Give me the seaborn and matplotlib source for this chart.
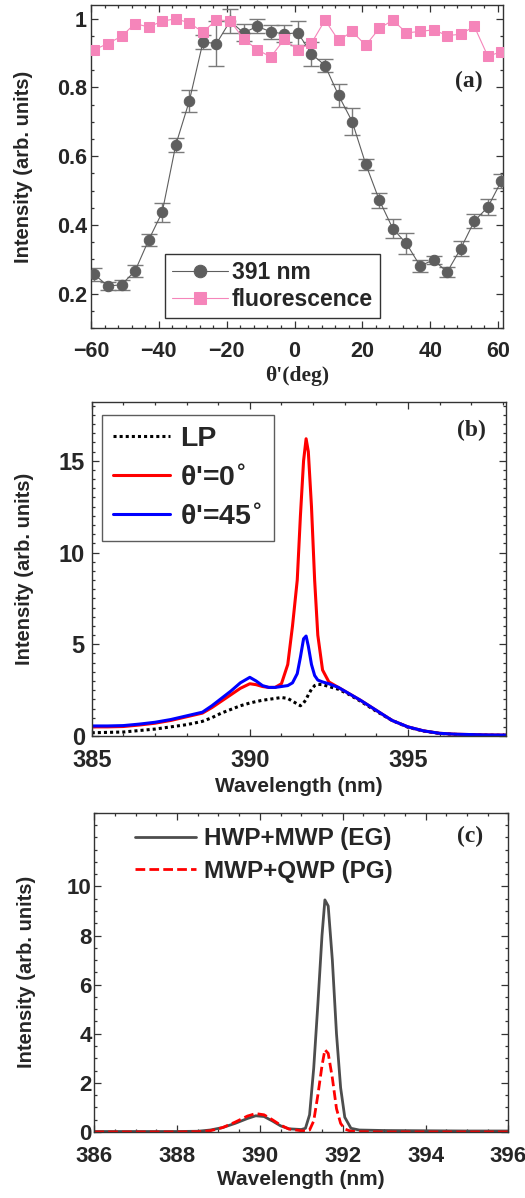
import numpy as np
import pandas as pd
import matplotlib
matplotlib.use("Agg")
import matplotlib.pyplot as plt
from matplotlib.ticker import MultipleLocator
import seaborn as sns

# --- panel (a): angle scan ---
theta = [-59, -55, -51, -47, -43, -39, -35, -31, -27, -23, -19, -15, -11, -7, -3, 1,
         5, 9, 13, 17, 21, 25, 29, 33, 37, 41, 45, 49, 53, 57, 61]
i391 = [0.256, 0.222, 0.226, 0.266, 0.356, 0.437, 0.633, 0.761, 0.932, 0.928, 0.993,
        0.959, 0.978, 0.962, 0.956, 0.959, 0.898, 0.864, 0.777, 0.701, 0.577, 0.472,
        0.389, 0.346, 0.281, 0.298, 0.263, 0.331, 0.411, 0.452, 0.528]
i391_err = [0.02, 0.012, 0.014, 0.017, 0.018, 0.028, 0.02, 0.031, 0.02, 0.065, 0.035,
            0.025, 0.02, 0.02, 0.025, 0.035, 0.035, 0.02, 0.033, 0.04, 0.016, 0.022,
            0.027, 0.03, 0.018, 0.012, 0.014, 0.022, 0.02, 0.023, 0.02]
fluo = [0.910, 0.928, 0.949, 0.986, 0.976, 0.993, 1.000, 0.988, 0.961, 0.997, 0.994,
        0.942, 0.910, 0.889, 0.940, 0.910, 0.929, 0.996, 0.937, 0.963, 0.923, 0.972,
        0.996, 0.959, 0.963, 0.968, 0.951, 0.955, 0.978, 0.891, 0.904]

# --- panel (b): spectra for LP and two EP angles ---
wl_b = [385.0, 385.5, 386.0, 386.5, 387.0, 387.5, 388.0, 388.5, 388.8, 389.1, 389.4,
        389.7, 390.0, 390.2, 390.4, 390.6, 390.8, 391.0, 391.2, 391.35, 391.5, 391.6,
        391.7, 391.78, 391.85, 391.95, 392.05, 392.15, 392.3, 392.5, 392.8, 393.1,
        393.5, 394.0, 394.5, 395.0, 395.5, 396.0, 396.5, 397.0, 397.5, 398.1]
lp = [0.18, 0.20, 0.22, 0.30, 0.38, 0.50, 0.62, 0.80, 1.00, 1.25, 1.45, 1.65, 1.80,
      1.88, 1.95, 2.00, 2.05, 2.10, 2.05, 1.90, 1.75, 1.65, 1.80, 2.00, 2.25, 2.55,
      2.75, 2.82, 2.80, 2.70, 2.55, 2.30, 1.90, 1.35, 0.85, 0.48, 0.27, 0.14, 0.09,
      0.07, 0.05, 0.04]
ep0 = [0.50, 0.50, 0.52, 0.60, 0.70, 0.85, 1.05, 1.25, 1.55, 1.90, 2.25, 2.60, 2.85,
       2.80, 2.70, 2.65, 2.65, 2.85, 3.90, 6.00, 8.50, 12.0, 15.0, 16.2, 15.5, 12.5,
       8.50, 5.50, 3.60, 2.95, 2.65, 2.35, 1.95, 1.40, 0.85, 0.50, 0.28, 0.15, 0.10,
       0.08, 0.06, 0.05]
ep45 = [0.55, 0.55, 0.57, 0.65, 0.75, 0.90, 1.10, 1.30, 1.65, 2.05, 2.45, 2.90, 3.20,
        3.00, 2.75, 2.65, 2.65, 2.70, 2.75, 2.90, 3.40, 4.30, 5.30, 5.45, 4.90, 3.90,
        3.30, 3.05, 2.95, 2.85, 2.65, 2.35, 1.95, 1.40, 0.85, 0.50, 0.28, 0.15, 0.10,
        0.08, 0.06, 0.05]

# --- panel (c): EG vs PG ---
wl_c = [386.0, 387.0, 388.0, 388.5, 388.8, 389.1, 389.4, 389.7, 389.9, 390.1, 390.3,
        390.5, 390.7, 391.0, 391.1, 391.2, 391.3, 391.4, 391.5, 391.57, 391.65, 391.75,
        391.85, 391.95, 392.05, 392.2, 392.4, 393.0, 394.0, 395.0, 396.0]
eg = [0.02, 0.02, 0.02, 0.03, 0.08, 0.18, 0.35, 0.55, 0.66, 0.63, 0.45, 0.25, 0.13,
      0.10, 0.15, 0.70, 2.60, 5.20, 8.00, 9.45, 9.20, 7.00, 4.00, 1.80, 0.60, 0.15,
      0.08, 0.06, 0.05, 0.04, 0.04]
pg = [0.0, 0.0, 0.0, 0.01, 0.05, 0.18, 0.40, 0.65, 0.75, 0.70, 0.50, 0.28, 0.12, 0.05,
      0.04, 0.08, 0.45, 1.50, 2.70, 3.35, 3.20, 2.20, 0.95, 0.35, 0.12, 0.03, 0.01,
      0.0, 0.0, 0.0, 0.0]

sns.set_style("ticks")
plt.rcParams['font.family'] = ['Liberation Sans', 'DejaVu Sans']
plt.rcParams['font.weight'] = 'bold'
plt.rcParams['axes.labelweight'] = 'bold'
plt.rcParams['mathtext.default'] = 'bf'

GRAY = '#5e5e5e'
PINK = '#f585ba'

fig = plt.figure(figsize=(5.25, 11.98), dpi=100)
ax_a = fig.add_axes([0.1733, 0.7262, 0.785, 0.2696])
ax_b = fig.add_axes([0.1747, 0.3856, 0.789, 0.2788])
ax_c = fig.add_axes([0.1796, 0.0551, 0.7886, 0.2665])


def style_axes(ax, tick_size):
    for s in ax.spines.values():
        s.set_linewidth(1.0)
        s.set_color('#333333')
    ax.tick_params(which='both', direction='in', top=True, right=True,
                   labelsize=tick_size, width=0.9, color='#333333')
    ax.tick_params(which='major', length=5)
    ax.tick_params(which='minor', length=2.5)
    for lab in ax.get_xticklabels() + ax.get_yticklabels():
        lab.set_fontweight('bold')


# ---------- (a) ----------
df_a = pd.DataFrame({'theta': theta, 'i391': i391, 'fluo': fluo})
ax_a.errorbar(theta, i391, yerr=i391_err, fmt='none', ecolor='#7a7a7a',
              elinewidth=1.0, capsize=6, capthick=1.0, zorder=2)
sns.lineplot(data=df_a, x='theta', y='i391', ax=ax_a, color=GRAY, lw=0.8,
             marker='o', markersize=7.5, markeredgecolor=GRAY, label='391 nm', zorder=3)
sns.lineplot(data=df_a, x='theta', y='fluo', ax=ax_a, color=PINK, lw=0.8,
             marker='s', markersize=7, markeredgecolor=PINK, label='fluorescence', zorder=4)
ax_a.set_xlim(-60, 61.5)
ax_a.set_ylim(0.1, 1.04)
ax_a.set_xticks([-60, -40, -20, 0, 20, 40, 60])
ax_a.set_yticks([0.2, 0.4, 0.6, 0.8, 1.0])
ax_a.set_yticklabels(['0.2', '0.4', '0.6', '0.8', '1'])
ax_a.xaxis.set_minor_locator(MultipleLocator(4))
ax_a.yaxis.set_minor_locator(MultipleLocator(0.05))
style_axes(ax_a, 15.5)
ax_a.tick_params(axis='x', pad=9)
ax_a.tick_params(axis='y', pad=3)
ax_a.set_xlabel("θ'(deg)", family='Liberation Serif', fontsize=15.5, fontweight='bold', labelpad=3)
ax_a.set_ylabel('Intensity (arb. units)', fontsize=14.5, fontweight='bold')
ax_a.yaxis.set_label_coords(-0.14, 0.5)
ax_a.text(0.917, 0.762, '(a)', transform=ax_a.transAxes, family='Liberation Serif',
          fontsize=17, fontweight='bold', ha='center', va='center')
leg = ax_a.legend(loc='lower left', bbox_to_anchor=(0.18, 0.031),
                  frameon=True, fancybox=False, edgecolor='black', handlelength=2.45,
                  handletextpad=0.15, labelspacing=0.2, borderpad=0.3, borderaxespad=0,
                  markerscale=1.2, prop={'weight': 'bold', 'size': 16.5})
leg.get_frame().set_linewidth(1.0)

# ---------- (b) ----------
df_b = pd.DataFrame({'wl': wl_b, 'lp': lp, 'ep0': ep0, 'ep45': ep45})
sns.lineplot(data=df_b, x='wl', y='lp', ax=ax_b, color='black', lw=2.2,
             linestyle=(0, (1, 1)), label='LP')
sns.lineplot(data=df_b, x='wl', y='ep0', ax=ax_b, color='#ff0000', lw=2.2,
             label=r"θ'=0$^{\circ}$")
sns.lineplot(data=df_b, x='wl', y='ep45', ax=ax_b, color='#0000ff', lw=2.2,
             label=r"θ'=45$^{\circ}$")
ax_b.set_xlim(385, 398.1)
ax_b.set_ylim(0, 18.2)
ax_b.set_xticks([385, 390, 395])
ax_b.set_yticks([0, 5, 10, 15])
ax_b.xaxis.set_minor_locator(MultipleLocator(1))
ax_b.yaxis.set_minor_locator(MultipleLocator(0.5))
style_axes(ax_b, 17)
ax_b.tick_params(axis='x', pad=9)
ax_b.tick_params(axis='y', pad=5)
ax_b.set_xlabel('Wavelength (nm)', fontsize=15, fontweight='bold', labelpad=4)
ax_b.set_ylabel('Intensity (arb. units)', fontsize=14.5, fontweight='bold')
ax_b.yaxis.set_label_coords(-0.14, 0.5)
ax_b.text(0.917, 0.916, '(b)', transform=ax_b.transAxes, family='Liberation Serif',
          fontsize=17, fontweight='bold', ha='center', va='center')
leg = ax_b.legend(loc='upper left', bbox_to_anchor=(0.025, 0.961), frameon=True,
                  fancybox=False, edgecolor='#333333', handlelength=2.0,
                  handletextpad=0.35, labelspacing=0.45, borderpad=0.4, borderaxespad=0,
                  prop={'weight': 'bold', 'size': 20.5})
leg.get_frame().set_linewidth(1.0)

# ---------- (c) ----------
df_c = pd.DataFrame({'wl': wl_c, 'eg': eg, 'pg': pg})
sns.lineplot(data=df_c, x='wl', y='eg', ax=ax_c, color='#4d4d4d', lw=2.0,
             label='HWP+MWP (EG)')
sns.lineplot(data=df_c, x='wl', y='pg', ax=ax_c, color='#ff0000', lw=2.0,
             linestyle=(0, (3.5, 1.5)), label='MWP+QWP (PG)')
ax_c.set_xlim(386, 396)
ax_c.set_ylim(0, 13)
ax_c.set_xticks([386, 388, 390, 392, 394, 396])
ax_c.set_yticks([0, 2, 4, 6, 8, 10])
ax_c.xaxis.set_minor_locator(MultipleLocator(0.5))
ax_c.yaxis.set_minor_locator(MultipleLocator(0.5))
style_axes(ax_c, 16)
ax_c.tick_params(axis='x', pad=10)
ax_c.tick_params(axis='y', pad=2)
ax_c.set_xlabel('Wavelength (nm)', fontsize=15, fontweight='bold', labelpad=2)
ax_c.set_ylabel('Intensity (arb. units)', fontsize=14.5, fontweight='bold')
ax_c.yaxis.set_label_coords(-0.14, 0.5)
ax_c.text(0.907, 0.925, '(c)', transform=ax_c.transAxes, family='Liberation Serif',
          fontsize=17, fontweight='bold', ha='center', va='center')
ax_c.legend(loc='upper left', bbox_to_anchor=(0.098, 0.955), frameon=False,
            handlelength=2.5, handletextpad=0.35, labelspacing=0.4, borderpad=0,
            borderaxespad=0, prop={'weight': 'bold', 'size': 17.5})

fig.savefig('out.png', dpi=100, facecolor='white')
